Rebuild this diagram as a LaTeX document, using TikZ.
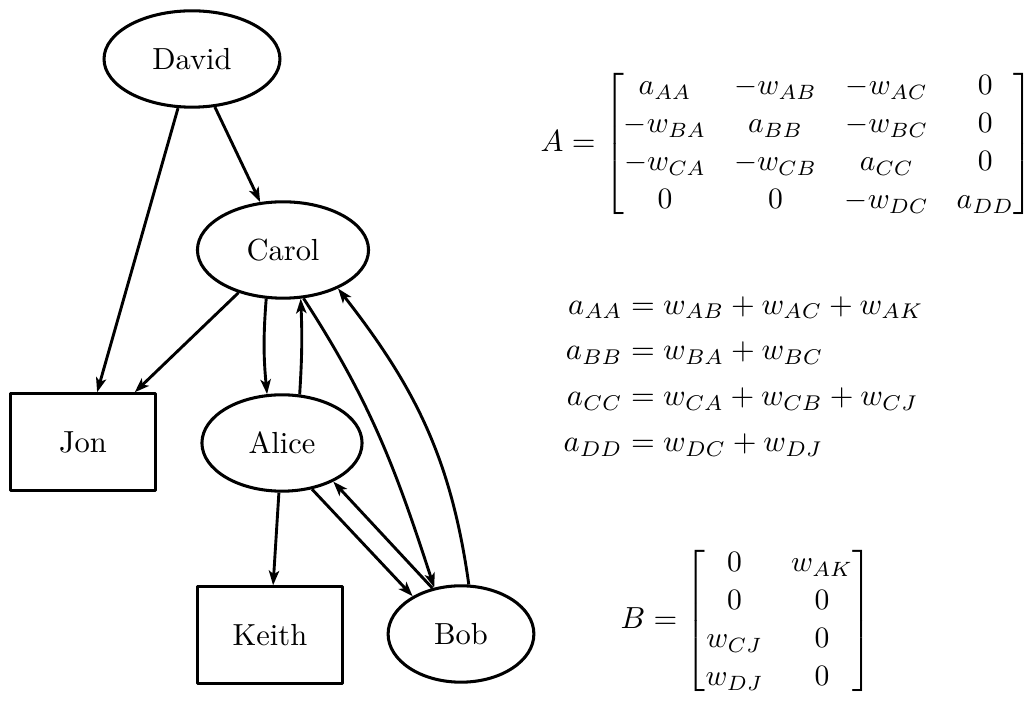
\documentclass[tikz,border=0pt]{standalone}
\usepackage{amsmath}
\usetikzlibrary{shapes.geometric,arrows.meta}
\newcommand{\refmat}[1]{\scalebox{0.97}{$\renewcommand{\arraystretch}{1.07}\setlength{\arraycolsep}{4.7pt}\begin{bmatrix}#1\end{bmatrix}$}}
\begin{document}
\begin{tikzpicture}[x=0.3279pt,y=-0.3279pt,
  every node/.style={inner sep=0pt},
  person/.style={draw, ellipse, line width=1pt, minimum height=31.6pt},
  leaf/.style={draw, rectangle, line width=1pt, minimum width=47.3pt, minimum height=31.6pt, line join=round},
  link/.style={line width=0.95pt, -{Stealth[length=4.8pt,width=3.4pt,inset=1.2pt]}},
]
\useasboundingbox (0,0) rectangle (1031,702);
\node[person, minimum width=57.7pt] (david) at (192,59) {David};
\node[person, minimum width=56.1pt] (carol) at (283,250) {Carol};
\node[person, minimum width=52.5pt] (alice) at (282,443) {Alice};
\node[person, minimum width=47.8pt] (bob) at (461,634) {Bob};
\node[leaf] (jon) at (83,442) {Jon};
\node[leaf] (keith) at (270,635) {Keith};

\draw[link] (david) -- (carol);
\draw[link] (david) -- (jon);
\draw[link] (carol) -- (jon);
\draw[link] (carol.-109.5) to[bend right=5] (alice.107);
\draw[link] (alice.70.5) to[bend right=3] (carol.-70.5);
\draw[link] (carol.-67.4) to[out=-57,in=108] (bob.120.8);
\draw[link] (bob.81.7) to[out=98,in=-52] (carol.-35);
\draw[link] (alice.-57.2) -- (bob.142.4);
\draw[link] (bob.122.2) -- (alice.-37);
\draw[link] (alice) -- (keith);

\node[anchor=west] (amat) at (540,144) {$A = \refmat{a_{AA} & -w_{AB} & -w_{AC} & 0\\ -w_{BA} & a_{BB} & -w_{BC} & 0\\ -w_{CA} & -w_{CB} & a_{CC} & 0\\ 0 & 0 & -w_{DC} & a_{DD}}$};
\node (sums) at (743.5,375.5) {$\begin{aligned} a_{AA} &= w_{AB}+w_{AC}+w_{AK}\\ a_{BB} &= w_{BA}+w_{BC}\\ a_{CC} &= w_{CA}+w_{CB}+w_{CJ}\\ a_{DD} &= w_{DC}+w_{DJ}\end{aligned}$};
\node[anchor=west] (bmat) at (620,621) {$B = \refmat{0 & w_{AK}\\ 0 & 0\\ w_{CJ} & 0\\ w_{DJ} & 0}$};
\end{tikzpicture}
\end{document}
